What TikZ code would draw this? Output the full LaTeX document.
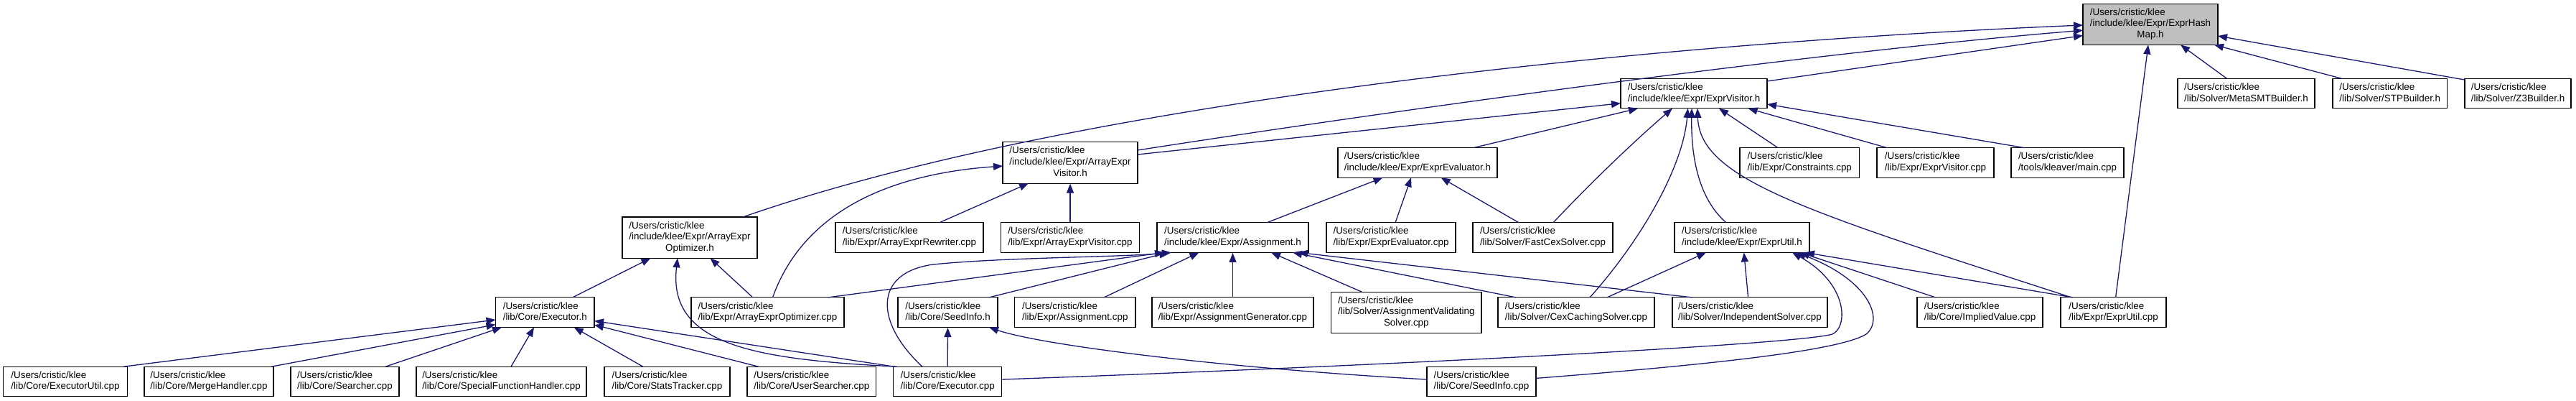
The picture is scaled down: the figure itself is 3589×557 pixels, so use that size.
\documentclass[tikz,border=0pt]{standalone}
\usepackage{fontspec}
\setmainfont{Liberation Sans}
\usetikzlibrary{arrows.meta,calc}
\definecolor{edgeblue}{HTML}{191970}
\definecolor{rootgrey}{HTML}{BFBFBF}
\newcommand{\twol}[1]{\begin{tabular}{@{}l@{}}/Users/cristic/klee\\#1\end{tabular}}
\newcommand{\threel}[2]{\begin{tabular}{@{}l@{}}/Users/cristic/klee\\#1\\\multicolumn{1}{@{}c@{}}{#2}\end{tabular}}
\begin{document}
\begin{tikzpicture}[x=1pt,y=-1pt,
  filebox/.style={draw=black, line width=1.1pt, fill=white, inner sep=0pt, font=\fontsize{13.4}{15.6}\selectfont, minimum height=41.6pt},
  tallbox/.style={filebox, minimum height=57.3pt},
  rootbox/.style={tallbox, fill=rootgrey},
  dep/.style={draw=edgeblue, line width=1.3pt, -{Triangle[length=13pt,width=10pt]}}]
\useasboundingbox (0,0) rectangle (3589,557);

% rank 0
\node[rootbox, minimum width=188pt] (hashmap) at (2996,33.8) {\threel{/include/klee/Expr/ExprHash}{Map.h}};
% rank 1
\node[filebox, minimum width=204pt] (exprvisitor_h) at (2360,130.1) {\twol{/include/klee/Expr/ExprVisitor.h}};
\node[filebox, minimum width=191pt] (metasmt) at (3129.5,130.1) {\twol{/lib/Solver/MetaSMTBuilder.h}};
\node[filebox, minimum width=159.5pt] (stp) at (3329.75,130.1) {\twol{/lib/Solver/STPBuilder.h}};
\node[filebox, minimum width=148pt] (z3) at (3508,130.1) {\twol{/lib/Solver/Z3Builder.h}};
% rank 2
\node[tallbox, minimum width=188pt] (arrayexprvisitor_h) at (1491,226.4) {\threel{/include/klee/Expr/ArrayExpr}{Visitor.h}};
\node[filebox, minimum width=222pt] (exprevaluator_h) at (1975,226.4) {\twol{/include/klee/Expr/ExprEvaluator.h}};
\node[filebox, minimum width=166.6pt] (constraints) at (2507.3,226.4) {\twol{/lib/Expr/Constraints.cpp}};
\node[filebox, minimum width=163pt] (exprvisitor_cpp) at (2696.5,226.4) {\twol{/lib/Expr/ExprVisitor.cpp}};
\node[filebox, minimum width=157pt] (kleavermain) at (2880.5,226.4) {\twol{/tools/kleaver/main.cpp}};
% rank 3
\node[tallbox, minimum width=188pt] (arrayexpropt_h) at (961,330.6) {\threel{/include/klee/Expr/ArrayExpr}{Optimizer.h}};
\node[filebox, minimum width=206pt] (arrayexprrewriter) at (1267,330.6) {\twol{/lib/Expr/ArrayExprRewriter.cpp}};
\node[filebox, minimum width=193pt] (arrayexprvisitor_cpp) at (1491,330.6) {\twol{/lib/Expr/ArrayExprVisitor.cpp}};
\node[filebox, minimum width=211pt] (assignment_h) at (1717.5,330.6) {\twol{/include/klee/Expr/Assignment.h}};
\node[filebox, minimum width=180pt] (exprevaluator_cpp) at (1938,330.6) {\twol{/lib/Expr/ExprEvaluator.cpp}};
\node[filebox, minimum width=195pt] (fastcex) at (2149.5,330.6) {\twol{/lib/Solver/FastCexSolver.cpp}};
\node[filebox, minimum width=188pt] (exprutil_h) at (2427,330.6) {\twol{/include/klee/Expr/ExprUtil.h}};
% rank 4
\node[filebox, minimum width=137.5pt] (executor_h) at (759.25,434.7) {\twol{/lib/Core/Executor.h}};
\node[filebox, minimum width=213pt] (arrayexpropt_cpp) at (1069.5,434.7) {\twol{/lib/Expr/ArrayExprOptimizer.cpp}};
\node[filebox, minimum width=139pt] (seedinfo_h) at (1320.5,434.7) {\twol{/lib/Core/SeedInfo.h}};
\node[filebox, minimum width=168.5pt] (assignment_cpp) at (1497.75,434.7) {\twol{/lib/Expr/Assignment.cpp}};
\node[filebox, minimum width=225pt] (assigngen) at (1717.5,434.7) {\twol{/lib/Expr/AssignmentGenerator.cpp}};
\node[tallbox, minimum width=209.4pt] (assignvalid) at (1959.3,434.7) {\threel{/lib/Solver/AssignmentValidating}{Solver.cpp}};
\node[filebox, minimum width=218pt] (cexcaching) at (2196,434.7) {\twol{/lib/Solver/CexCachingSolver.cpp}};
\node[filebox, minimum width=216pt] (independent) at (2438,434.7) {\twol{/lib/Solver/IndependentSolver.cpp}};
\node[filebox, minimum width=175pt] (impliedvalue) at (2758.5,434.7) {\twol{/lib/Core/ImpliedValue.cpp}};
\node[filebox, minimum width=147pt] (exprutil_cpp) at (2944.5,434.7) {\twol{/lib/Expr/ExprUtil.cpp}};
% rank 5
\node[filebox, minimum width=172.3pt] (executorutil) at (91,531) {\twol{/lib/Core/ExecutorUtil.cpp}};
\node[filebox, minimum width=180pt] (mergehandler) at (291,531) {\twol{/lib/Core/MergeHandler.cpp}};
\node[filebox, minimum width=151pt] (searcher) at (480.5,531) {\twol{/lib/Core/Searcher.cpp}};
\node[filebox, minimum width=237pt] (specialfh) at (698.5,531) {\twol{/lib/Core/SpecialFunctionHandler.cpp}};
\node[filebox, minimum width=175pt] (statstracker) at (929.5,531) {\twol{/lib/Core/StatsTracker.cpp}};
\node[filebox, minimum width=179.6pt] (usersearcher) at (1130.8,531) {\twol{/lib/Core/UserSearcher.cpp}};
\node[filebox, minimum width=151pt] (executor_cpp) at (1320.2,531) {\twol{/lib/Core/Executor.cpp}};
\node[filebox, minimum width=152pt] (seedinfo_cpp) at (2064,531) {\twol{/lib/Core/SeedInfo.cpp}};

% edges into ExprHashMap.h
\draw[dep] ($(arrayexpropt_h.center)+(74,-28.6)$) .. controls (1500,140) and (2300,60) .. ($(hashmap.center)+(-94,1.2)$);
\draw[dep] ($(arrayexprvisitor_h.center)+(94,-17.4)$) .. controls (1900,160) and (2500,75) .. ($(hashmap.center)+(-94,8.4)$);
\draw[dep] ($(exprvisitor_h.center)+(102,-17.1)$) -- ($(hashmap.center)+(-94,15.7)$);
\draw[dep] ($(exprutil_cpp.center)+(3.1,-20.8)$) -- ($(hashmap.center)+(-3,28.65)$);
\draw[dep] ($(metasmt.center)+(-27,-20.8)$) -- ($(hashmap.center)+(42,28.65)$);
\draw[dep] ($(stp.center)+(-67.25,-20.8)$) -- ($(hashmap.center)+(89,28.65)$);
\draw[dep] ($(z3.center)+(-74,-19)$) -- ($(hashmap.center)+(94,16.2)$);

% edges into ExprVisitor.h
\draw[dep] ($(arrayexprvisitor_h.center)+(94,-11.4)$) -- ($(exprvisitor_h.center)+(-102,13.6)$);
\draw[dep] ($(exprevaluator_h.center)+(78,-20.8)$) -- ($(exprvisitor_h.center)+(-78,20.8)$);
\draw[dep] ($(fastcex.center)+(14.5,-20.8)$) .. controls (2230,240) and (2290,185) .. ($(exprvisitor_h.center)+(-30,20.8)$);
\draw[dep] ($(cexcaching.center)+(19,-20.8)$) .. controls (2290,330) and (2345,230) .. ($(exprvisitor_h.center)+(-8.4,20.8)$);
\draw[dep] ($(exprutil_h.center)+(-22,-20.8)$) .. controls (2365,275) and (2356,215) .. ($(exprvisitor_h.center)+(-3,20.8)$);
\draw[dep] ($(exprutil_cpp.center)+(-58.5,-20.8)$) .. controls (2520,295) and (2368,250) .. ($(exprvisitor_h.center)+(5,20.8)$);
\draw[dep] ($(constraints.center)+(-30.3,-20.8)$) -- ($(exprvisitor_h.center)+(35,20.8)$);
\draw[dep] ($(exprvisitor_cpp.center)+(-67.5,-20.8)$) -- ($(exprvisitor_h.center)+(75.6,20.8)$);
\draw[dep] ($(kleavermain.center)+(-60.5,-20.8)$) -- ($(exprvisitor_h.center)+(102,14.9)$);

% edges into ArrayExprVisitor.h
\draw[dep] ($(arrayexpropt_cpp.center)+(7,-20.8)$) .. controls (1110,320) and (1200,245) .. ($(arrayexprvisitor_h.center)+(-94,4.6)$);
\draw[dep] ($(arrayexprrewriter.center)+(41.7,-20.8)$) -- ($(arrayexprvisitor_h.center)+(-58,28.65)$);
\draw[dep] (arrayexprvisitor_cpp.north) -- (arrayexprvisitor_h.south);

% edges into ExprEvaluator.h
\draw[dep] ($(assignment_h.center)+(47.5,-20.8)$) -- ($(exprevaluator_h.center)+(-48.5,20.8)$);
\draw[dep] ($(exprevaluator_cpp.center)+(6,-20.8)$) -- ($(exprevaluator_h.center)+(-9,20.8)$);
\draw[dep] ($(fastcex.center)+(-33.5,-20.8)$) -- ($(exprevaluator_h.center)+(32.6,20.8)$);

% edges into ArrayExprOptimizer.h
\draw[dep] ($(executor_h.center)+(38.5,-20.8)$) -- ($(arrayexpropt_h.center)+(-54.6,28.65)$);
\draw[dep] ($(arrayexpropt_cpp.center)+(-20.7,-20.8)$) -- ($(arrayexpropt_h.center)+(28.5,28.65)$);
\draw[dep] ($(executor_cpp.center)+(-70.2,-20.8)$) .. controls (1050,500) and (930,480) .. ($(arrayexpropt_h.center)+(-17,28.65)$);

% edges into Executor.h
\draw[dep] ($(executorutil.center)+(81,-20.8)$) -- ($(executor_h.center)+(-68.75,10.3)$);
\draw[dep] ($(mergehandler.center)+(87,-20.8)$) -- ($(executor_h.center)+(-68.75,16.9)$);
\draw[dep] ($(searcher.center)+(56.5,-20.8)$) -- ($(executor_h.center)+(-60.25,20.8)$);
\draw[dep] ($(specialfh.center)+(13.5,-20.8)$) -- ($(executor_h.center)+(-15.25,20.8)$);
\draw[dep] ($(statstracker.center)+(-33.7,-20.8)$) -- ($(executor_h.center)+(40.45,20.8)$);
\draw[dep] ($(usersearcher.center)+(-74.1,-20.8)$) -- ($(executor_h.center)+(68.75,17.3)$);
\draw[dep] ($(executor_cpp.center)+(-74.2,-20.8)$) -- ($(executor_h.center)+(68.75,11.8)$);

% edges into Assignment.h
\draw[dep] ($(arrayexpropt_cpp.center)+(84.1,-20.8)$) -- ($(assignment_h.center)+(-95.5,20.8)$);
\draw[dep] ($(seedinfo_h.center)+(57.5,-20.8)$) -- ($(assignment_h.center)+(-89.5,20.8)$);
\draw[dep] ($(executor_cpp.center)+(-35.2,-20.8)$) .. controls (1220,450) and (1215,380) .. (1300,368) .. controls (1400,358) and (1560,358) .. ($(assignment_h.center)+(-85.5,20.8)$);
\draw[dep] ($(assignment_cpp.center)+(40.25,-20.8)$) -- ($(assignment_h.center)+(-47,20.8)$);
\draw[dep] (assigngen.north) -- (assignment_h.south);
\draw[dep] ($(assignvalid.center)+(-62.3,-28.65)$) -- ($(assignment_h.center)+(53.5,20.8)$);
\draw[dep] ($(cexcaching.center)+(-84,-20.8)$) -- ($(assignment_h.center)+(83.5,20.8)$);
\draw[dep] ($(independent.center)+(-80.5,-20.8)$) -- ($(assignment_h.center)+(91.5,20.8)$);

% edges into SeedInfo.h
\draw[dep] (executor_cpp.north) -- (seedinfo_h.south);
\draw[dep] ($(seedinfo_cpp.center)+(-76,-3)$) .. controls (1700,512) and (1450,480) .. ($(seedinfo_h.center)+(57.5,20.8)$);

% edges into ExprUtil.h
\draw[dep] ($(cexcaching.center)+(43,-20.8)$) -- ($(exprutil_h.center)+(-50,20.8)$);
\draw[dep] ($(independent.center)+(-2.4,-20.8)$) -- ($(exprutil_h.center)+(2.7,20.8)$);
\draw[dep] ($(impliedvalue.center)+(-61.9,-20.8)$) -- ($(exprutil_h.center)+(81,20.8)$);
\draw[dep] ($(exprutil_cpp.center)+(-56.5,-20.8)$) -- ($(exprutil_h.center)+(88,20.8)$);
\draw[dep] ($(executor_cpp.center)+(75.5,-3)$) .. controls (1900,510) and (2500,480) .. (2553,465) .. controls (2575,455) and (2575,395) .. ($(exprutil_h.center)+(70,20.8)$);
\draw[dep] ($(seedinfo_cpp.center)+(76,-4.6)$) .. controls (2350,510) and (2560,490) .. (2600,465) .. controls (2625,445) and (2605,390) .. ($(exprutil_h.center)+(76,20.8)$);
\end{tikzpicture}
\end{document}
